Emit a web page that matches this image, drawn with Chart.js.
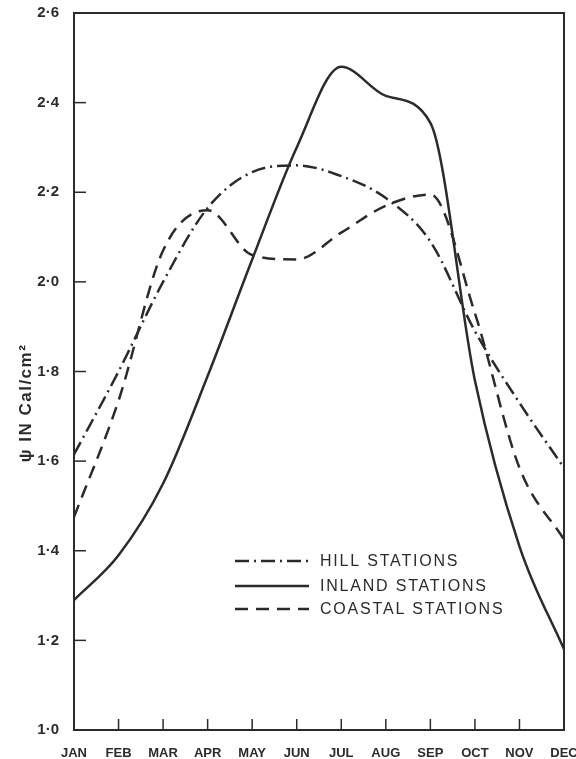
<!DOCTYPE html>
<html>
<head>
<meta charset="utf-8">
<script src="https://cdn.jsdelivr.net/npm/chart.js@4.4.1/dist/chart.umd.min.js"></script>
<style>
  html, body { margin: 0; padding: 0; background: #fff; }
  #wrap { width: 576px; height: 759px; }
</style>
</head>
<body>
<div id="wrap"><canvas id="chart" width="576" height="759"></canvas></div>
<script>
const months = ["JAN", "FEB", "MAR", "APR", "MAY", "JUN", "JUL", "AUG", "SEP", "OCT", "NOV", "DEC"];
const hillStations = [1.615, 1.80, 2.00, 2.165, 2.245, 2.26, 2.236, 2.187, 2.09, 1.89, 1.73, 1.585];
const inlandStations = [1.29, 1.39, 1.55, 1.79, 2.05, 2.30, 2.48, 2.415, 2.355, 1.78, 1.41, 1.18];
const coastalStations = [1.475, 1.735, 2.07, 2.16, 2.06, 2.05, 2.11, 2.17, 2.195, 1.93, 1.585, 1.425];
const yTicks = [1.0, 1.2, 1.4, 1.6, 1.8, 2.0, 2.2, 2.4, 2.6];

const ink = "#2b2b2b";
const FONT = "'Liberation Sans', Arial, sans-serif";

// frame, inward ticks, legend and axis title
const extras = {
  id: "extras",
  afterDraw(chart) {
    const ctx = chart.ctx;
    const a = chart.chartArea;
    const xs = chart.scales.x, ys = chart.scales.y;
    ctx.save();
    ctx.strokeStyle = ink;
    ctx.lineWidth = 2;
    ctx.strokeRect(a.left, a.top, a.right - a.left, a.bottom - a.top);

    ctx.lineWidth = 1.5;
    yTicks.forEach(v => {
      const y = ys.getPixelForValue(v);
      ctx.beginPath(); ctx.moveTo(a.left, y); ctx.lineTo(a.left + 12, y); ctx.stroke();
    });
    months.forEach((m, i) => {
      const x = xs.getPixelForValue(i);
      ctx.beginPath(); ctx.moveTo(x, a.bottom); ctx.lineTo(x, a.bottom - 11); ctx.stroke();
    });

    // legend
    const rows = [561, 586, 609];
    chart.data.datasets.forEach((ds, i) => {
      ctx.setLineDash(ds.borderDash || []);
      ctx.lineWidth = 2.5;
      ctx.beginPath(); ctx.moveTo(235, rows[i]); ctx.lineTo(309, rows[i]); ctx.stroke();
      ctx.setLineDash([]);
      ctx.fillStyle = ink;
      ctx.font = "16px " + FONT;
      ctx.letterSpacing = "1.8px";
      ctx.textBaseline = "middle";
      ctx.textAlign = "left";
      ctx.fillText(ds.label, 320, rows[i] + 1);
    });

    // y axis title
    ctx.translate(26, 403);
    ctx.rotate(-Math.PI / 2);
    ctx.letterSpacing = "1.5px";
    ctx.font = "bold 17px " + FONT;
    ctx.textAlign = "center";
    ctx.fillText("\u03c8 IN Cal/cm\u00b2", 0, 0);
    ctx.restore();
  }
};

new Chart(document.getElementById("chart"), {
  type: "line",
  data: {
    labels: months,
    datasets: [
      { label: "HILL STATIONS", data: hillStations, borderDash: [14, 5, 2, 5] },
      { label: "INLAND STATIONS", data: inlandStations, borderDash: [] },
      { label: "COASTAL STATIONS", data: coastalStations, borderDash: [13, 8] }
    ].map(d => Object.assign(d, {
      borderColor: ink,
      borderWidth: 2.5,
      pointRadius: 0,
      fill: false,
      cubicInterpolationMode: "monotone"
    }))
  },
  options: {
    responsive: false,
    animation: false,
    layout: { padding: { top: 13, right: 12, left: 0, bottom: 0 } },
    plugins: { legend: { display: false }, tooltip: { enabled: false } },
    scales: {
      x: {
        offset: false,
        grid: { display: false },
        border: { display: false },
        ticks: {
          color: ink, padding: 8, maxRotation: 0, autoSkip: false,
          font: { family: FONT, size: 13, weight: "bold" }
        },
        afterFit(s) { s.height = 29; s.paddingLeft = 0; s.paddingRight = 0; }
      },
      y: {
        min: 1.0, max: 2.6,
        grid: { display: false },
        border: { display: false },
        afterBuildTicks(s) { s.ticks = yTicks.map(v => ({ value: v })); },
        ticks: {
          color: ink, padding: 7,
          font: { family: FONT, size: 15, weight: "bold" },
          callback: v => v.toFixed(1).replace(".", "\u00b7")
        },
        afterFit(s) { s.width = 74; s.paddingTop = 0; s.paddingBottom = 0; }
      }
    }
  },
  plugins: [extras]
});
</script>
</body>
</html>
